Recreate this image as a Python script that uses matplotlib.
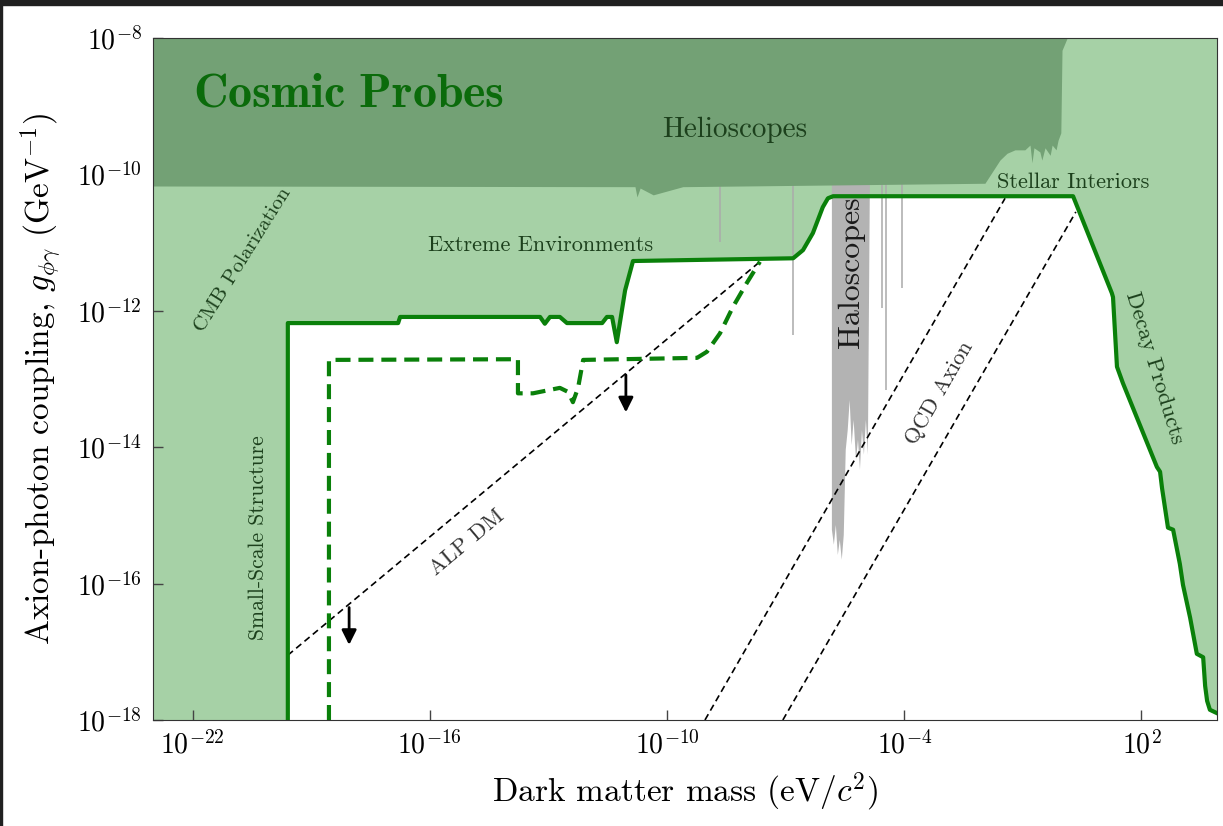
import numpy as np
import matplotlib
matplotlib.use("Agg")
import matplotlib.pyplot as plt
from matplotlib.patches import Rectangle
from matplotlib.ticker import FixedLocator, LogFormatterMathtext, NullLocator

plt.rcParams['font.family'] = 'serif'
plt.rcParams['font.serif'] = ['cmr10']
plt.rcParams['mathtext.fontset'] = 'cm'
plt.rcParams['axes.formatter.use_mathtext'] = True

#%% data as log10 values (mass in eV, coupling in 1/GeV)

# outer edge of the excluded region (solid green)
bound_logm = [-19.59, -19.59, -16.80, -16.75, -13.21, -13.09, -12.96, -12.71, -12.53,
              -11.64, -11.52, -11.39, -11.27, -11.06, -10.86, -6.81, -6.56, -6.31,
              -6.06, -5.93, -5.80, 0.27, 1.25, 1.28, 1.38, 1.53, 2.39, 2.47, 2.52,
              2.67, 2.80, 2.97, 3.05, 3.23, 3.40, 3.56, 3.61, 3.66, 3.73, 3.91]
bound_logg = [-18.0, -12.18, -12.18, -12.09, -12.09, -12.19, -12.09, -12.09, -12.18,
              -12.18, -12.09, -12.09, -12.46, -11.70, -11.27, -11.23, -11.11, -10.86,
              -10.48, -10.35, -10.32, -10.32, -11.74, -11.80, -12.82, -13.06, -14.29,
              -14.36, -14.60, -15.18, -15.21, -15.71, -16.02, -16.50, -17.03, -17.08,
              -17.50, -17.72, -17.85, -17.90]

# projected reach (dashed green)
proj_logm = [-18.55, -18.55, -13.77, -13.77, -13.39, -12.71, -12.50, -12.38, -12.25,
             -12.12, -9.24, -8.99, -8.66, -8.33, -7.98, -7.65]
proj_logg = [-18.0, -12.72, -12.71, -13.21, -13.21, -13.13, -13.19, -13.34, -13.13,
             -12.72, -12.69, -12.60, -12.33, -11.94, -11.59, -11.28]

# helioscope exclusion, lower edge
helio_logm = [-23.0, -10.81, -10.76, -10.68, -10.35, -9.60, -1.96, -1.58, -1.40, -1.20,
              -0.95, -0.82, -0.77, -0.72, -0.57, -0.52, -0.44, -0.31, -0.26, -0.16,
              -0.11, -0.04, -0.01, 0.12]
helio_logg = [-10.17, -10.18, -10.33, -10.20, -10.30, -10.18, -10.13, -9.79, -9.69, -9.64,
              -9.64, -9.57, -9.83, -9.61, -9.67, -9.79, -9.61, -9.72, -9.57, -9.64,
              -9.50, -9.39, -8.18, -8.0]

# haloscope band, lower edge
halo_logm = [-5.83, -5.78, -5.73, -5.68, -5.63, -5.58, -5.53, -5.48, -5.43, -5.38,
             -5.33, -5.28, -5.22, -5.17, -5.12, -5.07, -5.02, -4.97, -4.92, -4.87]
halo_logg = [-15.21, -15.43, -15.14, -15.58, -15.36, -15.65, -15.29, -14.04, -13.75, -13.31,
             -13.97, -13.60, -14.19, -13.89, -14.33, -13.75, -14.11, -13.60, -14.11, -10.17]

# single haloscope lines hanging from the helioscope edge
line_logm = [-8.66, -6.81, -4.56, -4.46, -4.06]
line_logg = [-10.99, -12.35, -11.96, -13.16, -11.67]

# ALP dark matter and QCD axion bands
alp_logm = [-19.59, -7.65]
alp_logg = [-17.05, -11.28]
qcd1_logm = [-9.04, -1.45]
qcd1_logg = [-18.0, -10.35]
qcd2_logm = [-7.07, 0.34]
qcd2_logg = [-18.0, -10.55]

# arrows (x, y_start, y_end)
arrow_logm = [-18.04, -11.04]
arrow_top = [-16.31, -12.90]
arrow_tip = [-16.94, -13.53]

#%%

p = lambda v: np.power(10.0, np.array(v))

light = '#a6d1a6'
dark = '#73a175'
green = '#0a800a'

fig = plt.figure(figsize=(12.23, 8.26), dpi=100)
ax = fig.add_axes([153/1223, 1-720/826, (1217-153)/1223, (720-38)/826])
ax.set_xscale('log')
ax.set_yscale('log')
xmin, xmax = 1e-23, 10**3.91
ymin, ymax = 1e-18, 1e-8
ax.set_xlim(xmin, xmax)
ax.set_ylim(ymin, ymax)

ax.set_facecolor(light)
ax.fill_between(p(bound_logm), ymin, p(bound_logg), color='white', lw=0, zorder=1)

# haloscopes
hx = np.concatenate([[halo_logm[0]], halo_logm, [halo_logm[-1]]])
hy = np.concatenate([[-8.0], halo_logg, [-8.0]])
ax.fill(p(hx), p(hy), color='#b3b3b3', lw=0, zorder=2)
ax.vlines(p(line_logm), p(line_logg), 1e-8, color='#aaaaaa', lw=1.1, zorder=2)

# helioscopes
ax.fill_between(p(helio_logm), p(helio_logg), ymax, color=dark, lw=0, zorder=3)

ax.plot(p(alp_logm), p(alp_logg), color='k', lw=1.2, dashes=(4, 2.5), zorder=4)
ax.plot(p(qcd1_logm), p(qcd1_logg), color='k', lw=1.2, dashes=(4, 2.5), zorder=4)
ax.plot(p(qcd2_logm), p(qcd2_logg), color='k', lw=1.2, dashes=(4, 2.5), zorder=4)

ax.plot(p(bound_logm), p(bound_logg), color=green, lw=3, zorder=5)
ax.plot(p(proj_logm), p(proj_logg), color=green, lw=3, dashes=(3.6, 1.9), zorder=5)

for m, y0, y1 in zip(arrow_logm, arrow_top, arrow_tip):
    ax.annotate('', xy=(10**m, 10**y1), xytext=(10**m, 10**y0),
                arrowprops=dict(arrowstyle='-|>', color='k', lw=2, mutation_scale=22),
                zorder=6)

#%% labels

def lab(m, g, s, size, rot=0, color='#1c401c'):
    ax.text(10**m, 10**g, s, fontsize=size, rotation=rot, color=color,
            ha='center', va='center', rotation_mode='anchor', zorder=7)

ax.text(10**-22.0, 10**-8.82, r'$\mathbf{Cosmic\ Probes}$', fontsize=34.5,
        color='#0b6b0b', ha='left', va='center', zorder=7)
lab(-8.28, -9.35, 'Helioscopes', 21)
lab(-13.19, -11.04, 'Extreme Environments', 16)
lab(0.27, -10.11, 'Stellar Interiors', 16)
lab(-20.72, -11.26, 'CMB Polarization', 15, 58)
lab(-20.34, -15.33, 'Small-Scale Structure', 15.5, 90)
lab(-5.35, -11.43, 'Haloscopes', 23, 90, '#1a1a1a')
lab(-3.10, -13.21, 'QCD Axion', 16, 60, '#333333')
lab(-15.06, -15.40, 'ALP DM', 16, 40, '#333333')
lab(2.34, -12.84, 'Decay Products', 16.5, -73)

#%% axes

ax.xaxis.set_major_locator(FixedLocator([1e-22, 1e-16, 1e-10, 1e-4, 1e2]))
ax.yaxis.set_major_locator(FixedLocator([1e-18, 1e-16, 1e-14, 1e-12, 1e-10, 1e-8]))
ax.xaxis.set_major_formatter(LogFormatterMathtext())
ax.yaxis.set_major_formatter(LogFormatterMathtext())
ax.xaxis.set_minor_locator(NullLocator())
ax.yaxis.set_minor_locator(NullLocator())
ax.tick_params(direction='in', length=7, width=1, labelsize=20, color='#444444', pad=8)
for s in ax.spines.values():
    s.set_color('#333333')
    s.set_zorder(8)

ax.set_xlabel(r'Dark matter mass (eV$/c^2$)', fontsize=24, labelpad=8)
ax.set_ylabel(r'Axion-photon coupling, $g_{\phi\gamma}$ (GeV$^{-1}$)', fontsize=24, labelpad=10)

# dark screenshot frame
fig.add_artist(Rectangle((0, 1-5/826), 1, 5/826, transform=fig.transFigure, color='#202020'))
fig.add_artist(Rectangle((0, 0), 2/1223, 1, transform=fig.transFigure, color='#202020'))

fig.savefig('out.png', dpi=100)
